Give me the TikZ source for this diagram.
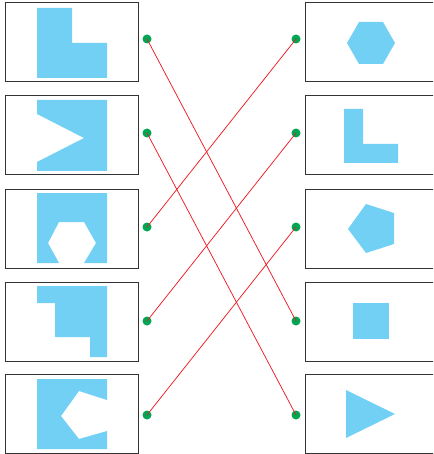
\documentclass[tikz,border=0pt]{standalone}
\usepackage{tikz}
\usetikzlibrary{positioning}

\definecolor{shapeblue}{RGB}{115,208,245}
\definecolor{dotgreen}{RGB}{0,166,81}
\definecolor{linkred}{RGB}{237,28,36}

\begin{document}
\begin{tikzpicture}[
  x=1pt, y=-1pt,
  card/.style={draw=black!80, line width=1pt, minimum width=133pt,
               minimum height=79pt, inner sep=0pt},
  piece/.style={fill=shapeblue, draw=none},
  dot/.style={circle, fill=dotgreen, inner sep=0pt, minimum size=9pt},
  link/.style={draw=linkred, line width=0.75pt}
]
\useasboundingbox (0,0) rectangle (433,454);
\clip (0,0) rectangle (433,454);
% cards, left and right columns
\foreach \i/\y in {1/42.5,2/135.5,3/228.5,4/321.5,5/414}{
  \node[card] (l\i) at (71.5,\y) {};
  \node[card] (r\i) at (371.5,\y) {};
}
% left pieces with cut-outs
\fill[piece] (37,8) -- (72,8) -- (72,43) -- (107,43) -- (107,78) -- (37,78) -- cycle;
\fill[piece] (37,100) -- (107,100) -- (107,171) -- (37,171) -- (37,162) -- (84,138)
  -- (37,114) -- cycle;
\fill[piece] (37,193) -- (107,193) -- (107,263) -- (84,263) -- (96,243) -- (84,222)
  -- (59,222) -- (48,243) -- (59,263) -- (37,263) -- cycle;
\fill[piece] (37,286) -- (107,286) -- (107,357) -- (90,357) -- (90,337) -- (55,337)
  -- (55,303) -- (37,303) -- cycle;
\fill[piece] (37,379) -- (107,379) -- (107,400) -- (79,391) -- (61,416) -- (79,439)
  -- (107,431) -- (107,449) -- (37,449) -- cycle;
% right pieces
\fill[piece] (347,43) -- (359,22) -- (383,22) -- (395,43) -- (383,64) -- (359,64) -- cycle;
\fill[piece] (344,109) -- (363,109) -- (363,144) -- (398,144) -- (398,163) -- (344,163) -- cycle;
\fill[piece] (366,204) -- (394,213) -- (394,244) -- (366,253) -- (348,229) -- cycle;
\fill[piece] (353,303) rectangle (389,339);
\fill[piece] (346,390) -- (395,414) -- (346,438) -- cycle;
% answer dots
\foreach \i/\y in {1/39,2/133,3/227,4/321,5/415}{
  \node[dot] (a\i) at (147,\y) {};
  \node[dot] (b\i) at (296,\y) {};
}
% matching lines
\foreach \a/\b in {a1/b4,a2/b5,a3/b1,a4/b2,a5/b3}\draw[link](\a.center)--(\b.center);
\end{tikzpicture}
\end{document}
